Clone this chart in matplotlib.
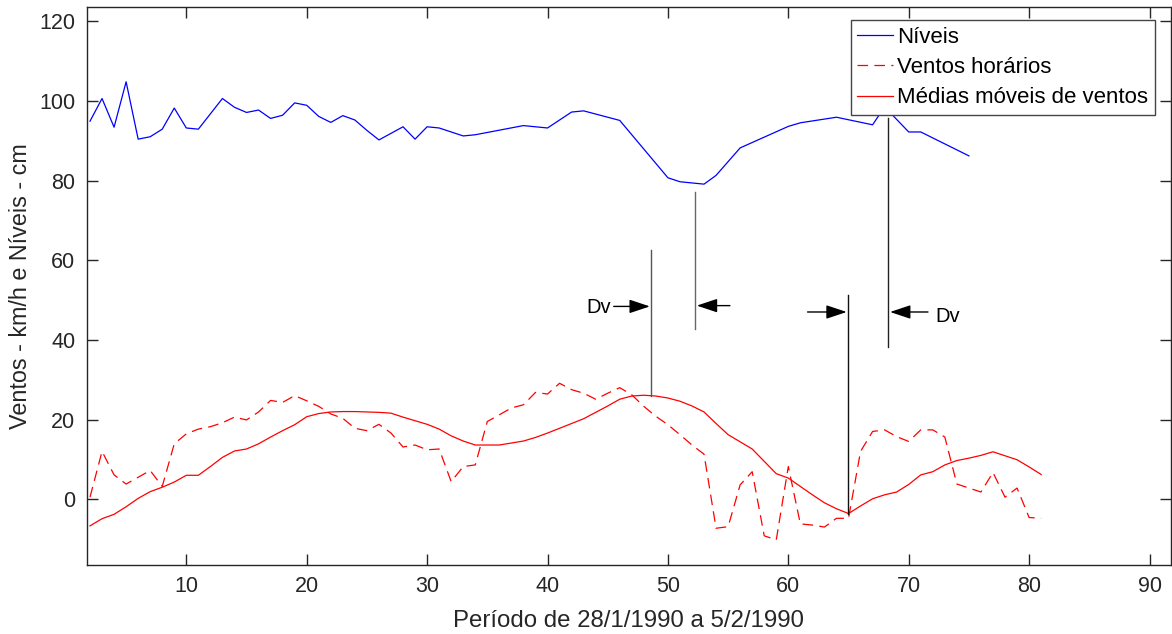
import matplotlib
matplotlib.use("Agg")
import matplotlib.pyplot as plt

# ---- data ----
x_niveis = [2, 3, 4, 5, 6, 7, 8, 9, 10, 11, 13, 14, 15, 16, 17, 18, 19, 20, 21, 22, 23, 24, 25, 26,
            28, 29, 30, 31, 33, 34, 38, 40, 42, 43, 46, 50, 51, 53, 54, 56, 60, 61, 64, 67, 68, 70, 71, 75]
niveis = [94.9, 100.6, 93.4, 104.8, 90.4, 91.0, 92.9, 98.2, 93.2, 92.9, 100.6, 98.4, 97.1, 97.7, 95.6,
          96.4, 99.5, 98.9, 96.1, 94.6, 96.3, 95.2, 92.6, 90.2, 93.5, 90.4, 93.5, 93.2, 91.2, 91.5,
          93.8, 93.2, 97.2, 97.5, 95.1, 80.7, 79.7, 79.1, 81.3, 88.2, 93.6, 94.5, 95.9, 94.0, 98.5,
          92.2, 92.2, 86.2]

x_ventos = list(range(2, 82))
ventos = [0.5, 12.0, 6.1, 3.8, 5.5, 7.2, 3.2, 13.9, 16.4, 17.6, 18.2, 19.2, 20.6, 19.9, 21.9, 24.8,
          24.3, 26.0, 24.7, 23.3, 21.4, 20.3, 17.8, 17.2, 18.8, 16.6, 13.1, 13.6, 12.4, 12.6, 4.4,
          8.2, 8.6, 19.5, 21.2, 22.9, 23.7, 26.8, 26.4, 29.1, 27.5, 26.6, 25.1, 26.6, 28.0, 26.2,
          23.3, 20.8, 18.7, 16.2, 13.6, 11.3, -7.3, -6.9, 3.6, 6.9, -9.2, -10.2, 8.2, -6.2, -6.5,
          -7.0, -4.8, -4.8, 12.0, 17.0, 17.4, 15.7, 14.5, 17.4, 17.4, 15.6, 3.8, 2.8, 1.8, 6.7,
          0.5, 2.8, -4.6, -4.8]

x_medias = list(range(2, 82))
medias = [-6.7, -4.9, -3.8, -1.9, 0.2, 1.9, 3.0, 4.3, 6.0, 6.0, 8.2, 10.5, 12.1, 12.6, 13.9, 15.6,
          17.2, 18.7, 20.7, 21.5, 21.9, 22.0, 22.0, 21.9, 21.8, 21.6, 20.6, 19.7, 18.8, 17.6, 15.9,
          14.6, 13.6, 13.6, 13.6, 14.1, 14.6, 15.5, 16.6, 17.8, 19.0, 20.2, 21.8, 23.4, 25.1, 25.9,
          26.1, 25.9, 25.4, 24.6, 23.4, 21.9, 19.0, 16.2, 14.4, 12.6, 9.5, 6.4, 5.3, 3.2, 1.1, -0.9,
          -2.4, -3.6, -1.7, 0.1, 1.1, 1.8, 3.7, 6.1, 6.9, 8.6, 9.7, 10.3, 11.0, 11.9, 10.9, 9.9,
          8.1, 6.2]

labels = ["Níveis", "Ventos horários", "Médias móveis de ventos"]
x_ticks = [10, 20, 30, 40, 50, 60, 70, 80, 90]
y_ticks = [0, 20, 40, 60, 80, 100, 120]

# annotation geometry (data coords)
vlines_x = [48.57, 52.25, 64.98, 68.3]
vlines_y0 = [26.0, 42.7, -3.6, 38.3]
vlines_y1 = [62.6, 77.2, 51.2, 95.8]
vlines_c = ["#555555", "#666666", "#111111", "#222222"]
arrows = [((45.5, 48.4), (48.5, 48.4)),
          ((55.15, 48.6), (52.4, 48.6)),
          ((61.6, 47.0), (64.85, 47.0)),
          ((71.6, 47.0), (68.45, 47.0))]
dv_texts = [(45.3, 48.1, "right"), (72.2, 45.8, "left")]

plt.rcParams['font.family'] = ['Liberation Sans', 'DejaVu Sans']

fig = plt.figure(figsize=(11.72, 6.34), dpi=100)
ax = fig.add_axes([86.5 / 1172, 1 - 565.3 / 634, (1170.7 - 86.5) / 1172, (565.3 - 7.3) / 634])

ax.plot(x_niveis, niveis, color="#0000ff", lw=0.9, label=labels[0])
ax.plot(x_ventos, ventos, color="#ff0000", lw=0.9, linestyle=(0, (8.5, 5)), label=labels[1])
ax.plot(x_medias, medias, color="#ff0000", lw=0.9, label=labels[2])

for xv, y0, y1, c in zip(vlines_x, vlines_y0, vlines_y1, vlines_c):
    ax.plot([xv, xv], [y0, y1], color=c, lw=1.0)

for start, end in arrows:
    ax.annotate("", xy=end, xytext=start,
                arrowprops=dict(arrowstyle="-|>,head_length=0.9,head_width=0.3",
                                color="black", lw=1.0, shrinkA=0, shrinkB=0,
                                mutation_scale=14))
for tx, ty, ha in dv_texts:
    ax.text(tx, ty, "Dv", ha=ha, va="center", fontsize=14.5, color="black")

ax.set_xlim(1.71, 91.76)
ax.set_ylim(-16.6, 123.5)
ax.set_xticks(x_ticks)
ax.set_yticks(y_ticks)
ax.tick_params(direction="in", length=8, width=1, top=True, right=True,
               labelsize=15.5, colors="#262626", pad=8)
for sp in ax.spines.values():
    sp.set_color("#262626")
    sp.set_linewidth(1.0)

ax.set_xlabel("Período de 28/1/1990 a 5/2/1990", fontsize=17.3, color="#262626", labelpad=9)
ax.set_ylabel("Ventos - km/h e Níveis - cm", fontsize=16.8, color="#262626", labelpad=5)

leg = ax.legend(loc="upper right", bbox_to_anchor=(1155 / 1172, 1 - 20 / 634),
                bbox_transform=fig.transFigure, borderaxespad=0, fontsize=16,
                fancybox=False, framealpha=1, edgecolor="#444444",
                handlelength=1.6, handletextpad=0.2, labelspacing=0.42,
                borderpad=0.3)
leg.get_frame().set_linewidth(1.0)

fig.savefig("out.png", dpi=100)
